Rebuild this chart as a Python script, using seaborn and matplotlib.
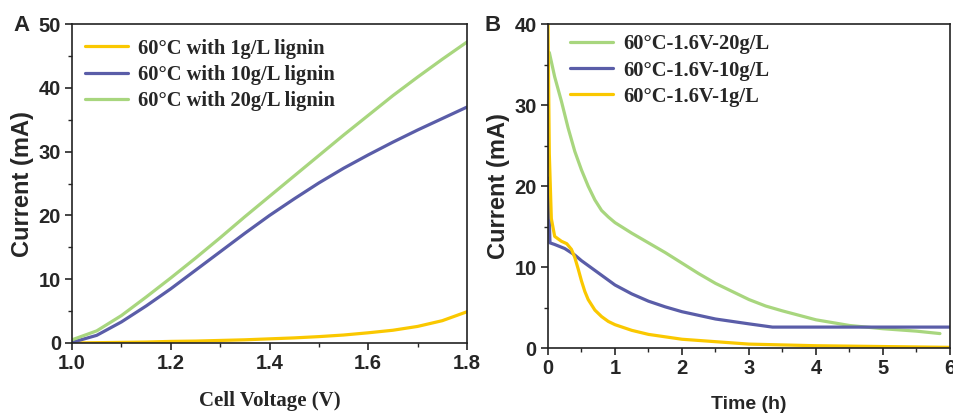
import matplotlib
matplotlib.use("Agg")
import matplotlib.pyplot as plt
from matplotlib.ticker import MultipleLocator
import seaborn as sns
import pandas as pd

# ── Panel A: linear sweep, current vs cell voltage ──
VOLTAGE = [1.0, 1.05, 1.1, 1.15, 1.2, 1.25, 1.3, 1.35, 1.4, 1.45, 1.5,
           1.55, 1.6, 1.65, 1.7, 1.75, 1.8]
LSV_1G = [0.0, 0.05, 0.1, 0.15, 0.25, 0.3, 0.4, 0.5, 0.65, 0.8, 1.0,
          1.25, 1.6, 2.0, 2.6, 3.5, 4.9]
LSV_10G = [0.1, 1.2, 3.3, 5.8, 8.5, 11.4, 14.3, 17.2, 20.0, 22.6, 25.1,
           27.4, 29.5, 31.5, 33.4, 35.2, 37.0]
LSV_20G = [0.5, 1.9, 4.3, 7.2, 10.2, 13.3, 16.5, 19.8, 23.0, 26.2, 29.4,
           32.6, 35.7, 38.8, 41.7, 44.5, 47.2]
LABELS_A = ['60°C with 1g/L lignin', '60°C with 10g/L lignin', '60°C with 20g/L lignin']

# ── Panel B: chronoamperometry at 1.6 V ──
T_20G = [0.02, 0.1, 0.2, 0.3, 0.4, 0.5, 0.6, 0.7, 0.8, 0.9, 1.0, 1.25, 1.5,
         1.75, 2.0, 2.25, 2.5, 2.75, 3.0, 3.25, 3.5, 4.0, 4.5, 5.0, 5.5, 5.85]
I_20G = [36.5, 33.5, 30.5, 27.2, 24.3, 22.0, 20.0, 18.3, 17.0, 16.2, 15.5, 14.2, 13.0,
         11.8, 10.5, 9.2, 8.0, 7.0, 6.0, 5.2, 4.6, 3.5, 2.8, 2.4, 2.1, 1.8]
T_10G = [0.0, 0.03, 0.1, 0.25, 0.4, 0.5, 0.75, 1.0, 1.25, 1.5, 1.75, 2.0,
         2.5, 3.0, 3.35, 4.0, 5.0, 6.0]
I_10G = [21.0, 13.0, 12.8, 12.3, 11.5, 10.8, 9.3, 7.8, 6.7, 5.8, 5.1, 4.5,
         3.6, 3.0, 2.6, 2.6, 2.6, 2.6]
T_1G = [0.0, 0.02, 0.05, 0.1, 0.2, 0.28, 0.35, 0.4, 0.45, 0.5, 0.55, 0.6,
        0.7, 0.8, 0.9, 1.0, 1.25, 1.5, 2.0, 2.5, 3.0, 4.0, 5.0, 6.0]
I_1G = [40.0, 24.0, 16.0, 13.8, 13.2, 12.9, 12.2, 11.2, 9.8, 8.3, 7.0, 6.0,
        4.7, 3.9, 3.3, 2.9, 2.2, 1.7, 1.1, 0.8, 0.5, 0.3, 0.2, 0.1]
LABELS_B = ['60°C-1.6V-20g/L', '60°C-1.6V-10g/L', '60°C-1.6V-1g/L']

YELLOW = '#FAC800'
BLUE = '#5A5DA8'
GREEN = '#A8D67E'

SANS = 'Liberation Sans'
SERIF = 'Liberation Serif'

sns.set_style("ticks")
plt.rcParams['font.family'] = [SANS, 'DejaVu Sans']
plt.rcParams['axes.linewidth'] = 1.2

df_a = pd.concat([
    pd.DataFrame({'V': VOLTAGE, 'I': LSV_1G, 'series': LABELS_A[0]}),
    pd.DataFrame({'V': VOLTAGE, 'I': LSV_10G, 'series': LABELS_A[1]}),
    pd.DataFrame({'V': VOLTAGE, 'I': LSV_20G, 'series': LABELS_A[2]}),
])
df_b = pd.concat([
    pd.DataFrame({'t': T_20G, 'I': I_20G, 'series': LABELS_B[0]}),
    pd.DataFrame({'t': T_10G, 'I': I_10G, 'series': LABELS_B[1]}),
    pd.DataFrame({'t': T_1G, 'I': I_1G, 'series': LABELS_B[2]}),
])

fig = plt.figure(figsize=(9.54, 4.13), dpi=100)
ax_a = fig.add_axes([0.0755, 0.1695, 0.414, 0.772])
ax_b = fig.add_axes([0.5744, 0.157, 0.4214, 0.7845])

sns.lineplot(data=df_a, x='V', y='I', hue='series', hue_order=LABELS_A,
             palette=[YELLOW, BLUE, GREEN], estimator=None, linewidth=2.3, ax=ax_a)
sns.lineplot(data=df_b, x='t', y='I', hue='series', hue_order=LABELS_B,
             palette=[GREEN, BLUE, YELLOW], estimator=None, linewidth=2.3, ax=ax_b)

ax_a.set_xlim(1.0, 1.8)
ax_a.set_ylim(0, 50)
ax_a.xaxis.set_major_locator(MultipleLocator(0.2))
ax_a.xaxis.set_minor_locator(MultipleLocator(0.1))
ax_a.yaxis.set_major_locator(MultipleLocator(10))
ax_a.yaxis.set_minor_locator(MultipleLocator(5))

ax_b.set_xlim(0, 6)
ax_b.set_ylim(0, 40)
ax_b.xaxis.set_major_locator(MultipleLocator(1))
ax_b.xaxis.set_minor_locator(MultipleLocator(0.5))
ax_b.yaxis.set_major_locator(MultipleLocator(10))
ax_b.yaxis.set_minor_locator(MultipleLocator(5))

for ax, labels, anchor in [(ax_a, LABELS_A, (-0.004, 1.0)), (ax_b, LABELS_B, (0.018, 1.013))]:
    for s in ax.spines.values():
        s.set_visible(True)
        s.set_color('#222222')
    ax.tick_params(which='major', direction='out', length=5, width=1.2,
                   labelsize=14.5, pad=3)
    ax.tick_params(which='minor', direction='out', length=3, width=1.0)
    for lbl in ax.get_xticklabels() + ax.get_yticklabels():
        lbl.set_fontweight('bold')
        lbl.set_fontfamily(SANS)
    ax.set_ylabel('Current (mA)', fontsize=17, fontweight='bold', family=SANS, labelpad=3)
    handles, _ = ax.get_legend_handles_labels()
    ax.legend(handles, labels, loc='upper left', frameon=False,
              prop={'family': SERIF, 'weight': 'bold', 'size': 14.8},
              handlelength=2.1, handletextpad=0.5, labelspacing=0.3,
              borderaxespad=0.3, bbox_to_anchor=anchor)

ax_a.set_xlabel('Cell Voltage (V)', fontsize=15, fontweight='bold', family=SERIF, labelpad=13)
ax_b.set_xlabel('Time (h)', fontsize=14, fontweight='bold', family=SANS, labelpad=13)

fig.text(0.014, 0.925, 'A', fontsize=16, fontweight='bold', family=SANS)
fig.text(0.508, 0.925, 'B', fontsize=16, fontweight='bold', family=SANS)

fig.savefig('out.png', dpi=100)
